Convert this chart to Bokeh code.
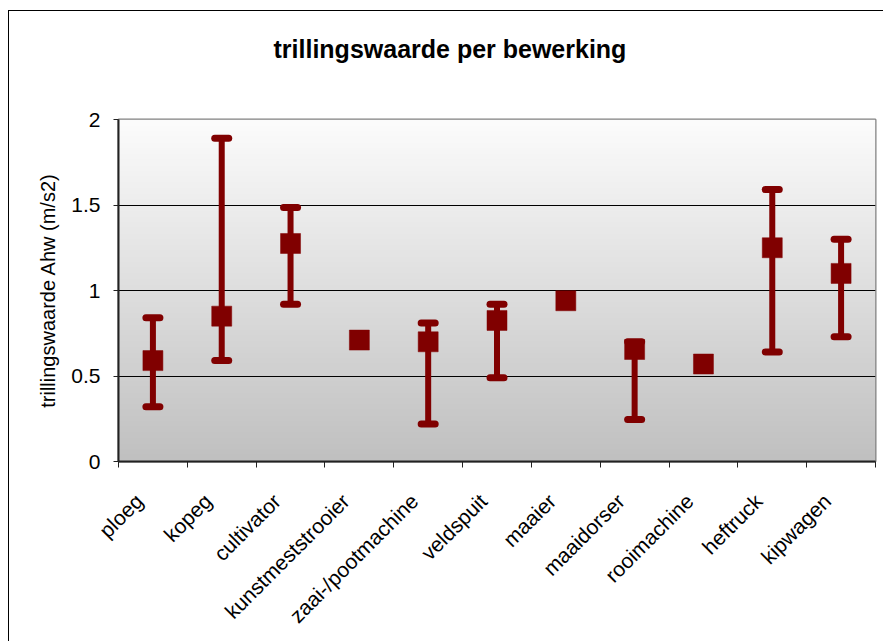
import numpy as np
from math import pi
from bokeh.plotting import figure
from bokeh.models import (ColumnDataSource, FactorRange, Range1d, LinearAxis,
                          FixedTicker, Whisker, TeeHead)
from bokeh.embed import file_html
from bokeh.resources import INLINE

# ---- data ----
categories = ["ploeg", "kopeg", "cultivator", "kunstmeststrooier", "zaai-/pootmachine",
              "veldspuit", "maaier", "maaidorser", "rooimachine", "heftruck", "kipwagen"]
mean_values = [0.59, 0.85, 1.275, 0.71, 0.70, 0.825, 0.94, 0.655, 0.57, 1.25, 1.10]
low_values = [0.32, 0.59, 0.92, None, 0.22, 0.49, None, 0.245, None, 0.64, 0.73]
high_values = [0.84, 1.89, 1.485, None, 0.81, 0.92, None, 0.70, None, 1.59, 1.30]
y_ticks = [0, 0.5, 1, 1.5, 2]
y_tick_labels = ["0", "0.5", "1", "1.5", "2"]
title_text = "trillingswaarde per bewerking"
y_title = "trillingswaarde Ahw (m/s2)"

RED = "#800000"
FONT = "Liberation Sans"
n = len(categories)

p = figure(x_range=FactorRange(*categories), y_range=Range1d(y_ticks[0], y_ticks[-1]),
           frame_width=757, frame_height=342,
           min_border_left=109, min_border_right=8, min_border_top=108, min_border_bottom=180,
           output_backend="svg", toolbar_location=None, x_axis_location=None,
           y_axis_location="left")
p.background_fill_color = "white"
p.border_fill_color = "white"
p.outline_line_color = "#808080"
p.outline_line_width = 2
p.styles = {"border-left": "1px solid black", "border-top": "1px solid black",
            "margin-top": "10px", "margin-left": "8px"}

# gradient plot-area background (style only); x in synthetic factor coordinates
N = 256
img = np.empty((N, 1), dtype=np.uint32)
view = img.view(dtype=np.uint8).reshape((N, 1, 4))
t = np.linspace(0, 1, N)
g = (192 + (252 - 192) * t).astype(np.uint8)
view[:, 0, 0] = g
view[:, 0, 1] = g
view[:, 0, 2] = g
view[:, 0, 3] = 255
p.image_rgba(image=[img], x=0, y=0, dw=n, dh=y_ticks[-1], level="image")

# grid
p.xgrid.grid_line_color = None
p.ygrid.ticker = FixedTicker(ticks=[v for v in y_ticks if y_ticks[0] < v < y_ticks[-1]])
p.ygrid.grid_line_color = "black"
p.ygrid.grid_line_width = 1

# y axis
p.yaxis.ticker = FixedTicker(ticks=y_ticks)
p.yaxis.major_label_overrides = dict(zip(y_ticks, y_tick_labels))
p.yaxis.axis_label = y_title
p.yaxis.axis_label_text_font = FONT
p.yaxis.axis_label_text_font_size = "20px"
p.yaxis.axis_label_text_font_style = "normal"
p.yaxis.axis_label_text_color = "black"
p.yaxis.axis_label_standoff = 9
p.yaxis.major_label_text_font = FONT
p.yaxis.major_label_text_font_size = "21px"
p.yaxis.major_label_text_color = "black"
p.yaxis.major_label_standoff = 13
p.yaxis.major_tick_out = 5
p.yaxis.major_tick_in = 0
p.yaxis.minor_tick_line_color = None
p.yaxis.axis_line_color = "#222222"
p.yaxis.axis_line_width = 2
p.yaxis.major_tick_line_color = "#222222"

# x axis: boundary ticks (synthetic positions between factors)
tick_axis = LinearAxis(ticker=FixedTicker(ticks=list(range(n + 1))),
                       major_label_overrides={i: "" for i in range(n + 1)},
                       major_label_text_font_size="1px", major_label_standoff=0,
                       major_tick_out=6, major_tick_in=0, minor_tick_line_color=None,
                       axis_line_color="#222222", axis_line_width=2,
                       major_tick_line_color="#222222")
p.add_layout(tick_axis, "below")
# rotated category labels, anchored slightly left of each factor centre
LABEL_SHIFT = -0.2
label_pos = [i + 0.5 + LABEL_SHIFT for i in range(n)]
label_axis = LinearAxis(ticker=FixedTicker(ticks=label_pos),
                        major_label_overrides=dict(zip(label_pos, categories)),
                        major_label_orientation=pi / 4, major_tick_line_color=None,
                        major_tick_out=0, major_tick_in=0, minor_tick_line_color=None,
                        axis_line_color=None, major_label_standoff=30,
                        major_label_text_font=FONT, major_label_text_font_size="21px",
                        major_label_text_color="black")
p.add_layout(label_axis, "below")

# error bars
idx = [i for i, lo in enumerate(low_values) if lo is not None]
wsrc = ColumnDataSource(dict(x=[categories[i] for i in idx],
                             lo=[low_values[i] for i in idx],
                             hi=[high_values[i] for i in idx]))
head = dict(size=14, line_width=7, line_color=RED, line_cap="round")
whisker = Whisker(source=wsrc, base="x", lower="lo", upper="hi", dimension="height",
                  line_color=RED, line_width=6, level="glyph",
                  upper_head=TeeHead(**head), lower_head=TeeHead(**head))
p.add_layout(whisker)

# markers
src = ColumnDataSource(dict(x=categories, v=mean_values))
p.scatter(x="x", y="v", source=src, marker="square", size=20,
          fill_color=RED, line_color=RED, line_width=0.5)

# chart title (centred over the whole chart area, which is wider than the plot frame)
p.title.text = title_text + "\n\n"
p.title.align = "left"
p.title.offset = 155
p.title.vertical_align = "bottom"
p.title.standoff = 2
p.title.text_font = FONT
p.title.text_font_size = "25px"
p.title.text_font_style = "bold"
p.title.text_color = "black"

open("out.html", "w").write(file_html(p, INLINE))
